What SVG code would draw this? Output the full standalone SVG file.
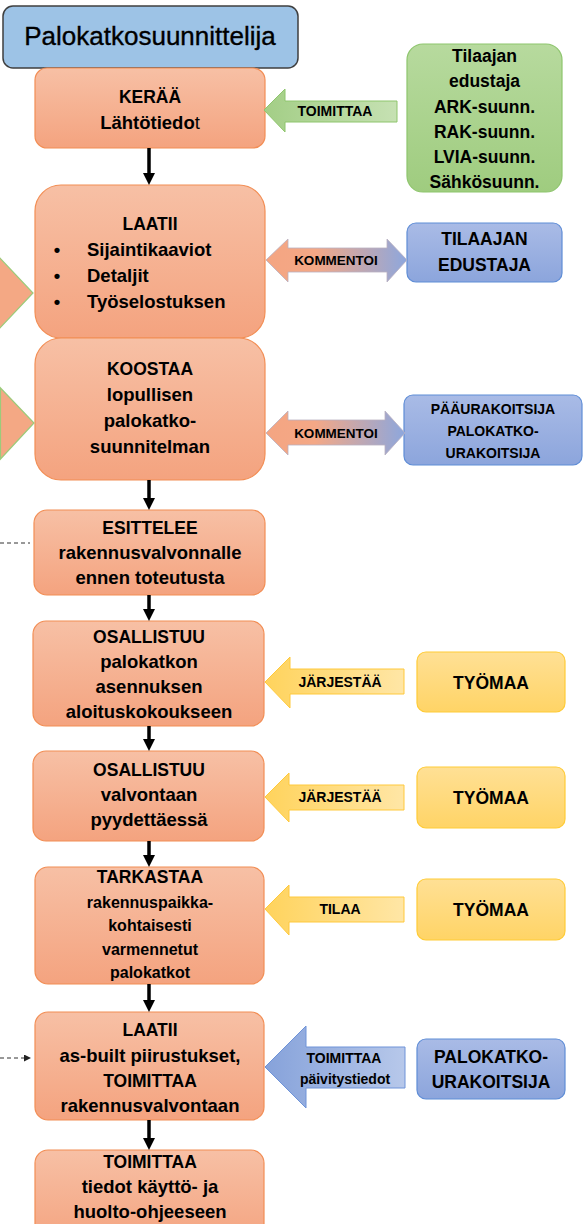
<svg xmlns="http://www.w3.org/2000/svg" width="583" height="1224" viewBox="0 0 583 1224">
<defs>
<linearGradient id="gOr" x1="0" y1="0" x2="0" y2="1"><stop offset="0" stop-color="#F7C0A5"/><stop offset="1" stop-color="#F4A37F"/></linearGradient>
<linearGradient id="gGr" x1="0" y1="0" x2="0" y2="1"><stop offset="0" stop-color="#B7DA9E"/><stop offset="1" stop-color="#9FCC7F"/></linearGradient>
<linearGradient id="gBl" x1="0" y1="0" x2="0" y2="1"><stop offset="0" stop-color="#A9BBE6"/><stop offset="1" stop-color="#8CA5DC"/></linearGradient>
<linearGradient id="gYe" x1="0" y1="0" x2="0" y2="1"><stop offset="0" stop-color="#FFE095"/><stop offset="1" stop-color="#FFD466"/></linearGradient>
<linearGradient id="aGr" x1="0" y1="0" x2="1" y2="0"><stop offset="0" stop-color="#A3CE86"/><stop offset="1" stop-color="#C6E1B3"/></linearGradient>
<linearGradient id="aYe" x1="0" y1="0" x2="1" y2="0"><stop offset="0" stop-color="#FFD35C"/><stop offset="1" stop-color="#FFE6A6"/></linearGradient>
<linearGradient id="aBl" x1="0" y1="0" x2="1" y2="0"><stop offset="0" stop-color="#86A2DA"/><stop offset="1" stop-color="#B7C8EA"/></linearGradient>
<linearGradient id="aKo" x1="0" y1="0" x2="1" y2="0"><stop offset="0" stop-color="#F4A582"/><stop offset="0.35" stop-color="#F4A886"/><stop offset="1" stop-color="#8DA7DD"/></linearGradient>
<marker id="down" viewBox="0 0 10 10" refX="0" refY="5" markerUnits="userSpaceOnUse" markerWidth="12" markerHeight="12" orient="auto"><path d="M0,0 L10,5 L0,10 z" fill="#000"/></marker>
<marker id="small" viewBox="0 0 10 10" refX="0" refY="5" markerUnits="userSpaceOnUse" markerWidth="7" markerHeight="7" orient="auto"><path d="M0,0 L10,5 L0,10 z" fill="#222"/></marker>
</defs>
<style>
text{font-family:"Liberation Sans",Arial,sans-serif;fill:#000}
.t{font-weight:bold;font-size:18.5px;text-anchor:middle}
.c{font-weight:bold;font-size:17.5px;text-anchor:middle}
.s{font-weight:bold;font-size:16px;text-anchor:middle}
.l{font-weight:bold;font-size:14px;text-anchor:middle}
.k{font-weight:bold;font-size:13.5px;text-anchor:middle}
.b{font-weight:bold;font-size:18.5px}
.or{fill:url(#gOr);stroke:#F28E55;stroke-width:1.2}
.gr{fill:url(#gGr);stroke:#8EC56D;stroke-width:1.2}
.bl{fill:url(#gBl);stroke:#5F8DD6;stroke-width:1.2}
.ye{fill:url(#gYe);stroke:#FFCB36;stroke-width:1.2}
.dn{stroke:#000;stroke-width:3.5;fill:none;marker-end:url(#down)}
.dash{stroke:#333;stroke-width:1;stroke-dasharray:4 3;fill:none}
.tri{fill:#F4A884;stroke:#9CCB7A;stroke-width:1.2}
</style>

<g id="title">
<rect x="3" y="6" width="295" height="62" rx="10" fill="#9DC3E6" stroke="#3F3F3F" stroke-width="1.5"/>
<text x="150" y="45" font-size="26" text-anchor="middle" stroke="#000" stroke-width="0.35">Palokatkosuunnittelija</text>
</g>

<g id="keraa">
<rect class="or" x="35" y="68" width="230" height="80" rx="12"/>
<text class="c" x="150" y="103">KERÄÄ</text>
<text class="t" x="150" y="129">Lähtötiedo<tspan font-weight="normal">t</tspan></text>
</g>

<g id="laatii1">
<rect class="or" x="35" y="185" width="230" height="153" rx="26"/>
<text class="c" x="150" y="230">LAATII</text>
<text class="b" x="57" y="256" text-anchor="middle">•</text>
<text class="b" x="87" y="256">Sijaintikaaviot</text>
<text class="b" x="57" y="282" text-anchor="middle">•</text>
<text class="b" x="87" y="282">Detaljit</text>
<text class="b" x="57" y="308" text-anchor="middle">•</text>
<text class="b" x="87" y="308">Työselostuksen</text>
</g>

<g id="koostaa">
<rect class="or" x="35" y="338" width="230" height="142" rx="26"/>
<text class="c" x="150" y="375">KOOSTAA</text>
<text class="t" x="150" y="401">lopullisen</text>
<text class="t" x="150" y="427">palokatko-</text>
<text class="t" x="150" y="453">suunnitelman</text>
</g>

<g id="esittelee">
<rect class="or" x="34" y="510" width="231" height="85" rx="13"/>
<text class="c" x="150" y="534">ESITTELEE</text>
<text class="t" x="150" y="559">rakennusvalvonnalle</text>
<text class="t" x="150" y="584">ennen toteutusta</text>
</g>

<g id="osallistuu1">
<rect class="or" x="33" y="621" width="231" height="105" rx="13"/>
<text class="c" x="149" y="643">OSALLISTUU</text>
<text class="t" x="149" y="668">palokatkon</text>
<text class="t" x="149" y="693">asennuksen</text>
<text class="t" x="149" y="718">aloituskokoukseen</text>
</g>

<g id="osallistuu2">
<rect class="or" x="33" y="751" width="231" height="90" rx="13"/>
<text class="c" x="149" y="776">OSALLISTUU</text>
<text class="t" x="149" y="801">valvontaan</text>
<text class="t" x="149" y="826">pyydettäessä</text>
</g>

<g id="tarkastaa">
<rect class="or" x="35" y="867" width="229" height="117" rx="13"/>
<text class="c" x="150" y="883">TARKASTAA</text>
<text class="s" x="150" y="908">rakennuspaikka-</text>
<text class="s" x="150" y="931">kohtaisesti</text>
<text class="s" x="150" y="955">varmennetut</text>
<text class="s" x="150" y="978">palokatkot</text>
</g>

<g id="laatii2">
<rect class="or" x="35" y="1012" width="229" height="108" rx="13"/>
<text class="c" x="150" y="1036">LAATII</text>
<text class="t" x="150" y="1062">as-built piirustukset,</text>
<text class="c" x="150" y="1087">TOIMITTAA</text>
<text class="t" x="150" y="1112">rakennusvalvontaan</text>
</g>

<g id="toimittaa">
<rect class="or" x="35" y="1150" width="229" height="95" rx="13"/>
<text class="c" x="150" y="1168">TOIMITTAA</text>
<text class="t" x="150" y="1193">tiedot käyttö- ja</text>
<text class="t" x="150" y="1218">huolto-ohjeeseen</text>
</g>

<g id="suunnittelijat">
<rect class="gr" x="407" y="44" width="155" height="148" rx="16"/>
<text class="c" x="484.5" y="62">Tilaajan</text>
<text class="c" x="484.5" y="87">edustaja</text>
<text class="c" x="484.5" y="113">ARK-suunn.</text>
<text class="c" x="484.5" y="138">RAK-suunn.</text>
<text class="c" x="484.5" y="163">LVIA-suunn.</text>
<text class="c" x="484.5" y="188">Sähkösuunn.</text>
</g>

<g id="tilaajan-edustaja">
<rect class="bl" x="407" y="223" width="155" height="59" rx="9"/>
<text class="c" x="484.5" y="245" font-size="18">TILAAJAN</text>
<text class="c" x="484.5" y="271" font-size="18">EDUSTAJA</text>
</g>

<g id="paaurakoitsija">
<rect class="bl" x="404" y="395" width="178" height="70" rx="9"/>
<text class="l" x="493" y="414">PÄÄURAKOITSIJA</text>
<text class="l" x="493" y="436">PALOKATKO-</text>
<text class="l" x="493" y="458">URAKOITSIJA</text>
</g>

<g id="tyomaa1">
<rect class="ye" x="417" y="652" width="148" height="60" rx="9"/>
<text class="c" x="491" y="689" font-size="18">TYÖMAA</text>
</g>

<g id="tyomaa2">
<rect class="ye" x="417" y="767" width="148" height="61" rx="9"/>
<text class="c" x="491" y="804" font-size="18">TYÖMAA</text>
</g>

<g id="tyomaa3">
<rect class="ye" x="417" y="879" width="148" height="61" rx="9"/>
<text class="c" x="491" y="916" font-size="18">TYÖMAA</text>
</g>

<g id="palokatkourakoitsija">
<rect class="bl" x="417" y="1039" width="148" height="60" rx="9"/>
<text class="c" x="491" y="1063">PALOKATKO-</text>
<text class="c" x="491" y="1088">URAKOITSIJA</text>
</g>

<g id="connectors">
<line class="dn" x1="149" y1="148" x2="149" y2="173"/>
<line class="dn" x1="149" y1="480" x2="149" y2="498"/>
<line class="dn" x1="149" y1="595" x2="149" y2="609"/>
<line class="dn" x1="149" y1="726" x2="149" y2="739"/>
<line class="dn" x1="149" y1="841" x2="149" y2="855"/>
<line class="dn" x1="149" y1="984" x2="149" y2="1000"/>
<line class="dn" x1="149" y1="1120" x2="149" y2="1138"/>

<polygon class="tri" points="-20,237 33,293 -20,349"/>
<polygon class="tri" points="0.5,388 34,423 0.5,459"/>

<line class="dash" x1="0" y1="543" x2="30" y2="543"/>
<line class="dash" x1="0" y1="1058" x2="24" y2="1058" marker-end="url(#small)"/>

<polygon points="264,110 285,89 285,101 397,101 397,122 285,122 285,132" fill="url(#aGr)" stroke="#8EC56D" stroke-width="1"/>
<text class="l" x="335" y="116" font-size="15.5">TOIMITTAA</text>

<polygon points="266,260 288,239 288,248 387,248 387,239 407,260 387,282 387,272 288,272 288,282" fill="url(#aKo)" stroke="#B9B0C0" stroke-width="0.8"/>
<text class="k" x="336" y="265">KOMMENTOI</text>

<polygon points="266,433 288,411 288,420 385,420 385,411 405,433 385,455 385,445 288,445 288,455" fill="url(#aKo)" stroke="#B9B0C0" stroke-width="0.8"/>
<text class="k" x="336" y="438">KOMMENTOI</text>

<polygon points="265,682 290,657 290,669 404,669 404,694 290,694 290,708" fill="url(#aYe)" stroke="#FFC93C" stroke-width="1"/>
<text class="l" x="340" y="687">JÄRJESTÄÄ</text>

<polygon points="265,797 289,773 289,785 404,785 404,810 289,810 289,822" fill="url(#aYe)" stroke="#FFC93C" stroke-width="1"/>
<text class="l" x="340" y="802">JÄRJESTÄÄ</text>

<polygon points="265,909 289,885 289,897 404,897 404,922 289,922 289,935" fill="url(#aYe)" stroke="#FFC93C" stroke-width="1"/>
<text class="l" x="340" y="914">TILAA</text>

<polygon points="265,1067 306,1026 306,1047 405,1047 405,1088 306,1088 306,1108" fill="url(#aBl)" stroke="#6E93D8" stroke-width="1"/>
<text class="l" x="344" y="1063" font-size="15">TOIMITTAA</text>
<text class="l" x="345" y="1084" font-size="15">päivitystiedot</text>
</g>
</svg>
